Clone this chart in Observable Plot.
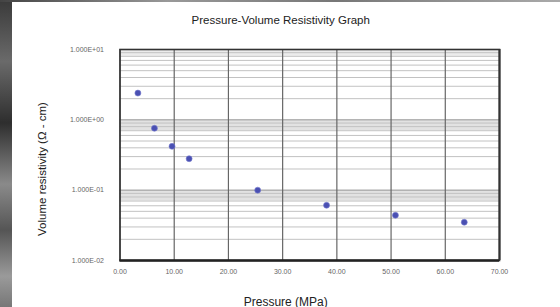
<!DOCTYPE html>
<html>
<head>
<meta charset="utf-8">
<script src="https://cdn.jsdelivr.net/npm/d3@7"></script>
<script src="https://cdn.jsdelivr.net/npm/@observablehq/plot@0.6"></script>
<style>
  html, body { margin: 0; padding: 0; background: #fff; }
  #wrap { position: relative; width: 560px; height: 307px; overflow: hidden; background: #fff; }
  #strip { position: absolute; left: 0; top: 0; width: 12px; height: 307px;
    background: linear-gradient(180deg, #3a3a3a 0%, #6a6a6a 20%, #2e2e2e 40%, #8a8a8a 60%, #555 75%, #9a9a9a 90%, #777 100%); }
  #topstrip { position: absolute; left: 0; top: 0; width: 560px; height: 2px;
    background: linear-gradient(90deg, #444 0%, #999 30%, #777 60%, #aaa 100%); }
  #ylabel { position: absolute; left: 42px; top: 169px; transform: translate(-50%, -50%) rotate(-90deg);
    white-space: nowrap; font-family: 'Liberation Sans', Arial, sans-serif; font-size: 11.5px; color: #222; }
</style>
</head>
<body>
<div id="wrap"><div id="chart"></div><div id="strip"></div><div id="topstrip"></div><div id="ylabel"></div></div>
<script>
const pressure = [3.3, 6.35, 9.6, 12.75, 25.4, 38.1, 50.8, 63.5];
const resistivity = [2.4, 0.76, 0.42, 0.28, 0.1, 0.061, 0.044, 0.035];
const xTicks = [0, 10, 20, 30, 40, 50, 60, 70];
const xTickLabels = ["0.00", "10.00", "20.00", "30.00", "40.00", "50.00", "60.00", "70.00"];
const yTicks = [10, 1, 0.1, 0.01];
const yTickLabels = ["1.000E+01", "1.000E+00", "1.000E-01", "1.000E-02"];
const decades = [10, 1, 0.1];
const title = "Pressure-Volume Resistivity Graph";
const xLabel = "Pressure (MPa)";
const yLabel = "Volume resistivity (\u03A9 - cm)";

const data = pressure.map((p, i) => ({p, r: resistivity[i]}));
const minor = decades.flatMap(d => [2,3,4,5,6,7,8,9].map(k => k * d / 10));
const font = "'Liberation Sans', Arial, sans-serif";

document.getElementById("ylabel").textContent = yLabel;

const chart = Plot.plot({
  width: 560,
  height: 307,
  marginLeft: 119.5,
  marginRight: 61,
  marginTop: 49,
  marginBottom: 47,
  style: {fontFamily: font, background: "transparent"},
  x: {domain: [0, 70]},
  y: {type: "log", domain: [0.01, 10]},
  marks: [
    Plot.rect(decades.slice(1), {x1: 0, x2: 70, y1: d => d * 0.7, y2: d => d, fill: "#e2e2e2"}),
    Plot.rect(decades.slice(0, 1), {x1: 0, x2: 70, y1: d => d * 0.8, y2: d => d, fill: "#ececec"}),
    Plot.ruleY(minor, {stroke: "#c2c2c2", strokeWidth: 1}),
    Plot.ruleY(yTicks, {stroke: "#999", strokeWidth: 1}),
    Plot.ruleX(xTicks, {stroke: "#666", strokeWidth: 1.2}),
    Plot.frame({stroke: "#333", strokeWidth: 1.6}),
    Plot.ruleY([0.01], {stroke: "#222", strokeWidth: 2.5}),
    Plot.ruleX([70], {stroke: "#333", strokeWidth: 2}),
    Plot.axisX({ticks: xTicks, tickSize: 0, tickPadding: 9, tickFormat: d => xTickLabels[xTicks.indexOf(d)], fontSize: 7, fill: "#666", label: null}),
    Plot.axisY({ticks: yTicks, tickSize: 0, tickPadding: 16, tickFormat: d => yTickLabels[yTicks.indexOf(d)], fontSize: 7, fill: "#666", label: null}),
    Plot.dot(data, {x: "p", y: "r", r: 3, fill: "#4a50b2", stroke: "#7a80d0", strokeWidth: 0.6}),
    Plot.text([title], {frameAnchor: "top", dx: -29, dy: -34, fontSize: 11.5, fill: "#222"}),
    Plot.text([xLabel], {frameAnchor: "bottom", dx: -24, dy: 45, fontSize: 12, fill: "#222"})
  ]
});
document.getElementById("chart").appendChild(chart);
</script>
</body>
</html>
